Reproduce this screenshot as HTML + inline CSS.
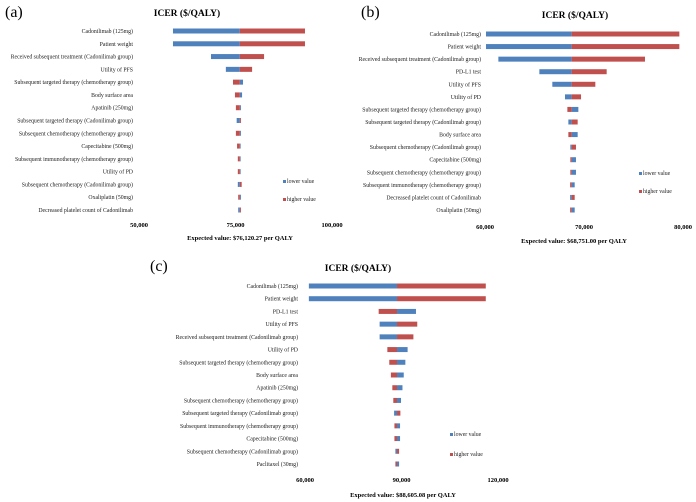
<!DOCTYPE html>
<html><head><meta charset="utf-8"><style>
html,body{margin:0;padding:0;background:#fff;}
svg{display:block;font-family:"Liberation Serif",serif;}
</style></head><body>
<svg id="chart" width="696" height="502" viewBox="0 0 696 502" xmlns="http://www.w3.org/2000/svg"></svg>
<script>
// Panel (a)
const aLabels = ["Cadonilimab (125mg)","Patient weight","Received subsequent treatment (Cadonilimab group)","Utility of PFS","Subsequent targeted therapy (chemotherapy group)","Body surface area","Apatinib (250mg)","Subsequent targeted therapy (Cadonilimab group)","Subsequent chemotherapy (chemotherapy group)","Capecitabine (500mg)","Subsequent immunotherapy (chemotherapy group)","Utility of PD","Subsequent chemotherapy (Cadonilimab group)","Oxaliplatin (50mg)","Decreased platelet count of Cadonilimab"];
const aLow  = [58800,58800,68650,72500,76950,76700,76400,75300,76400,76300,76300,76300,75600,76400,75700];
const aHigh = [93000,93000,82400,79300,74350,74860,75100,76400,75100,75400,75600,75600,76600,75700,76400];
const aTicks = [50000,75000,100000];
const aBase = 76120.27;
// Panel (b)
const bLabels = ["Cadonilimab (125mg)","Patient weight","Received subsequent treatment (Cadonilimab group)","PD-L1 test","Utility of PFS","Utility of PD","Subsequent targeted therapy (chemotherapy group)","Subsequent targeted therapy (Cadonilimab group)","Body surface area","Subsequent chemotherapy (Cadonilimab group)","Capecitabine (500mg)","Subsequent chemotherapy (chemotherapy group)","Subsequent immunotherapy (chemotherapy group)","Decreased platelet count of Cadonilimab","Oxaliplatin (50mg)"];
const bLow  = [60100,60100,61350,65490,66800,68080,69430,68420,69360,68620,69190,69190,69060,68600,69060];
const bHigh = [79630,79630,76160,72290,71145,69700,68320,69360,68420,69190,68620,68620,68600,69060,68600];
const bTicks = [60000,70000,80000];
const bBase = 68751.00;
// Panel (c)
const cLabels = ["Cadonilimab (125mg)","Patient weight","PD-L1 test","Utility of PFS","Received subsequent treatment (Cadonilimab group)","Utility of PD","Subsequent targeted therapy (chemotherapy group)","Body surface area","Apatinib (250mg)","Subsequent chemotherapy (chemotherapy group)","Subsequent targeted therapy (Cadonilimab group)","Subsequent immunotherapy (chemotherapy group)","Capecitabine (500mg)","Subsequent chemotherapy (Cadonilimab group)","Paclitaxel (30mg)"];
const cLow  = [61200,61200,94500,83200,83200,91900,91200,90700,90300,89850,87700,89550,89550,88100,89250];
const cHigh = [116200,116200,82900,94900,93700,85600,86200,86700,87150,87450,89650,87800,87800,89250,88100];
const cTicks = [60000,90000,120000];
const cBase = 88605.08;

const NS="http://www.w3.org/2000/svg";
const svg=document.getElementById('chart');
function mk(tag,attrs,parent,text){const e=document.createElementNS(NS,tag);for(const k in attrs)e.setAttribute(k,attrs[k]);if(text!==undefined)e.textContent=text;(parent||svg).appendChild(e);return e;}
function fmt(v){return v.toLocaleString('en-US');}

function panel(cfg,labels,low,high,ticks,base){
  const g=mk('g',{});
  
  
  const x=v=>cfg.x0+(v-ticks[0])/(ticks[ticks.length-1]-ticks[0])*(cfg.x1-cfg.x0);
  const y=i=>cfg.y0+i*(cfg.y1-cfg.y0)/(labels.length-1);
  const pl=mk('text',{x:cfg.px,y:cfg.py,'font-size':16,fill:'#000'},g,'('+cfg.id+')');
  
  
  const t=mk('text',{x:cfg.tx,y:cfg.ty,'font-size':9.5,'font-weight':'bold','text-anchor':'middle'},g,'ICER ($/QALY)');
  
  
  const bx=x(base);
  labels.forEach((lab,i)=>{
    const yy=y(i);
    const l=mk('text',{x:cfg.lx,y:yy+2,'font-size':5.8,'text-anchor':'end',fill:'#222'},g,lab);
    
    
    const xl=x(low[i]);
    const b1=mk('rect',{x:Math.min(xl,bx),y:yy-2.5,width:Math.max(0.8,Math.abs(xl-bx)),height:5,fill:'#4f81bd'},g);
    
    
    const xh=x(high[i]);
    const b2=mk('rect',{x:Math.min(xh,bx),y:yy-2.5,width:Math.max(0.8,Math.abs(xh-bx)),height:5,fill:'#c0504d'},g);
    
    
  });
  ticks.forEach(tv=>{
    const tk=mk('text',{x:x(tv),y:cfg.axy,'font-size':6.5,'font-weight':'bold','text-anchor':'middle'},g,fmt(tv));
    
    
  });
  const ev=mk('text',{x:cfg.evx,y:cfg.evy,'font-size':6.5,'font-weight':'bold','text-anchor':'middle'},g,'Expected value: $'+base.toLocaleString('en-US',{minimumFractionDigits:2,maximumFractionDigits:2})+' per QALY');
  
  
  const le1=mk('g',{},g);
  
  
  mk('rect',{x:cfg.lgx,y:cfg.lgy-3,width:3,height:3,fill:'#4f81bd'},le1);
  mk('text',{x:cfg.lgx+4,y:cfg.lgy,'font-size':5.8,fill:'#222'},le1,'lower value');
  const le2=mk('g',{},g);
  
  
  mk('rect',{x:cfg.lgx,y:cfg.lgy+cfg.lgd-3,width:3,height:3,fill:'#c0504d'},le2);
  mk('text',{x:cfg.lgx+4,y:cfg.lgy+cfg.lgd,'font-size':5.8,fill:'#222'},le2,'higher value');
}
panel({id:'a',x0:139,x1:332,y0:31,y1:210,px:5,py:17,tx:187,ty:16,lx:133,axy:227,evx:240,evy:240,lgx:283,lgy:183,lgd:18},aLabels,aLow,aHigh,aTicks,aBase);
panel({id:'b',x0:485,x1:683,y0:34,y1:210,px:361,py:17,tx:575,ty:18,lx:481,axy:229,evx:574,evy:243,lgx:639,lgy:175,lgd:18},bLabels,bLow,bHigh,bTicks,bBase);
panel({id:'c',x0:305,x1:498,y0:286,y1:464,px:150,py:271,tx:358,ty:271,lx:298,axy:482,evx:403,evy:497,lgx:450,lgy:436,lgd:20},cLabels,cLow,cHigh,cTicks,cBase);
</script>
</body></html>
